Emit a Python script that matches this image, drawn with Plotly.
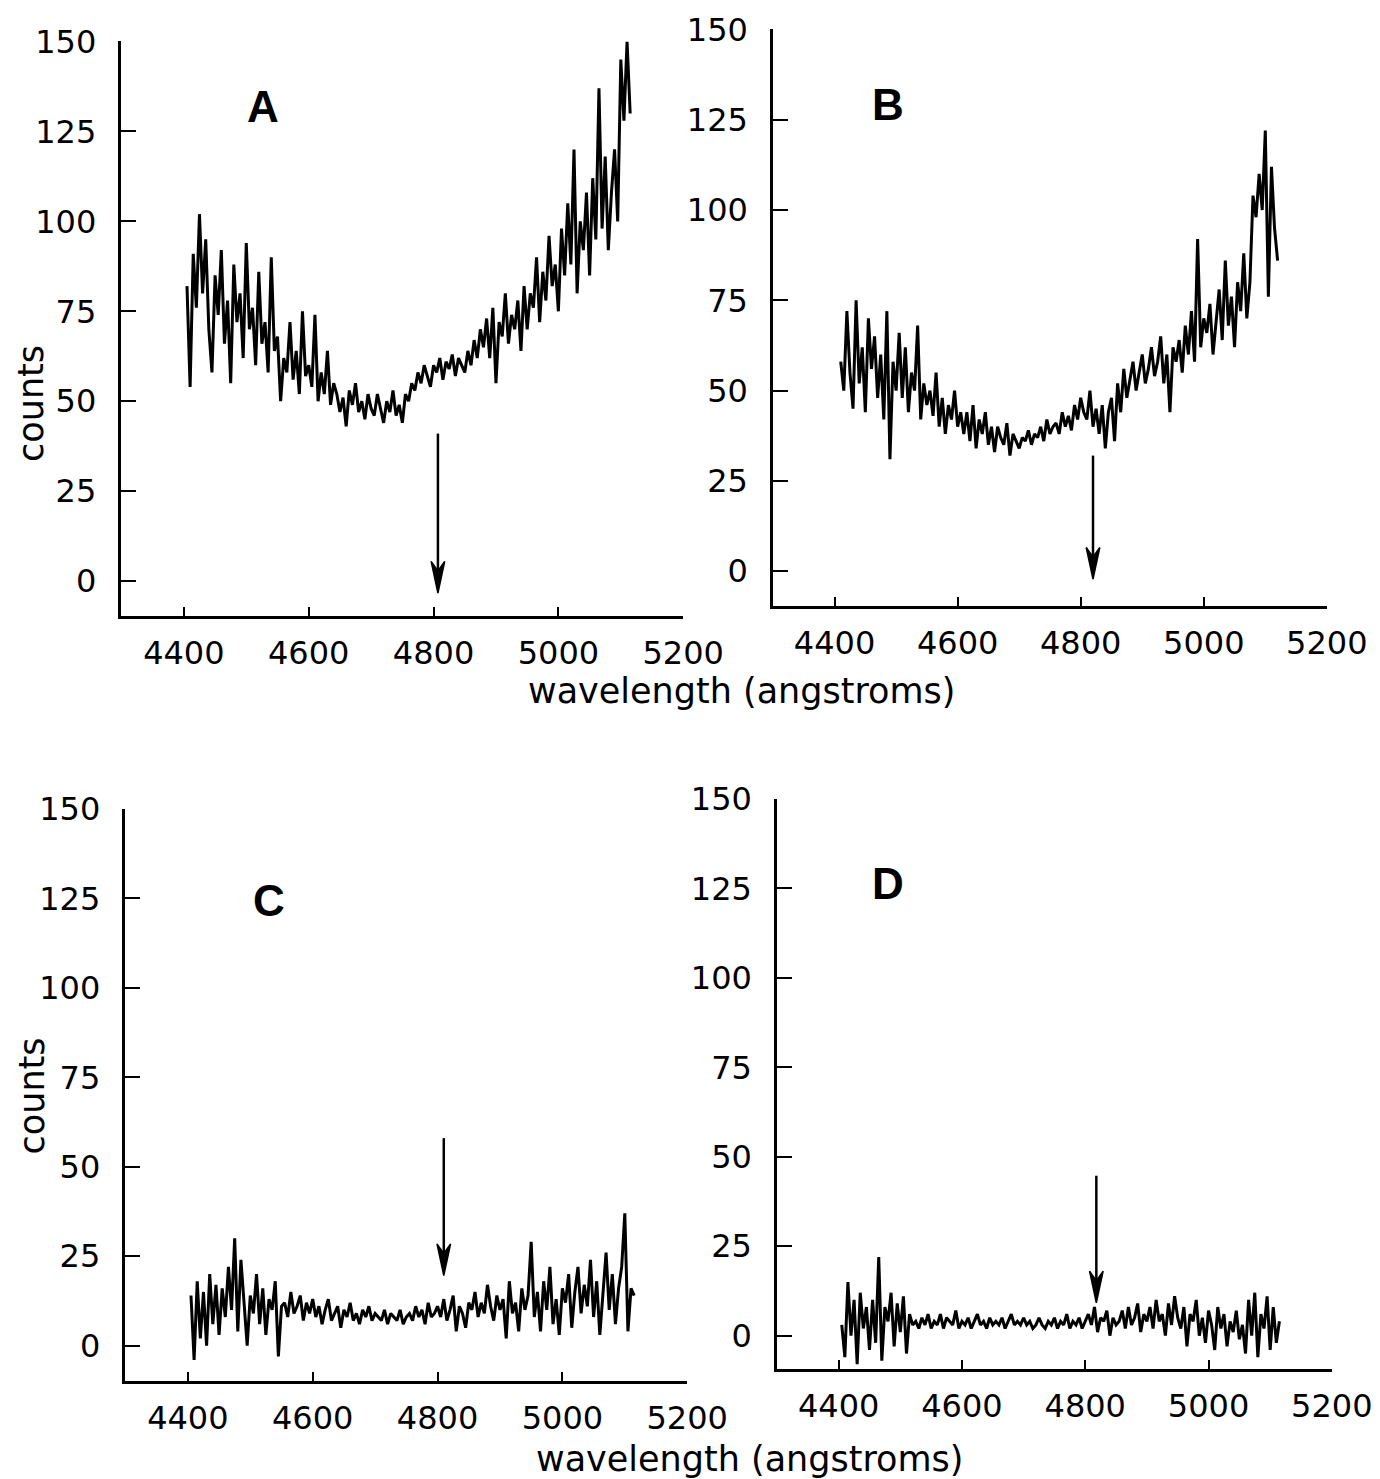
import plotly.graph_objects as go

# ---------------- data ----------------
wl_start_A, wl_start_B, wl_start_C, wl_start_D = 4405, 4410, 4405, 4405
wl_step = 5

counts_A = [
    82, 54, 91, 76, 102, 80, 95, 70, 58, 85,
    74, 92, 66, 78, 55, 88, 72, 80, 62, 94,
    70, 76, 60, 86, 66, 72, 58, 90, 64, 68,
    50, 62, 58, 72, 56, 64, 52, 75, 57, 60,
    54, 74, 50, 58, 52, 64, 49, 55, 52, 47,
    51, 43, 53, 49, 55, 47, 50, 45, 52, 48,
    46, 52, 48, 44, 50, 47, 53, 46, 49, 44,
    52, 50, 55, 53, 58, 55, 60, 57, 54, 60,
    58, 62, 56, 61, 59, 63, 57, 62, 60, 58,
    64, 60, 67, 62, 70, 65, 73, 62, 76, 55,
    72, 68, 80, 66, 74, 70, 78, 64, 82, 70,
    80, 76, 90, 72, 86, 78, 96, 82, 88, 75,
    98, 85, 105, 88, 120, 80, 100, 92, 108, 85,
    112, 95, 137, 98, 118, 92, 108, 120, 100, 145,
    128, 150, 130,
]

counts_B = [
    58, 50, 72, 55, 45, 75, 52, 62, 44, 70,
    56, 65, 48, 60, 42, 72, 31, 58, 50, 66,
    48, 62, 44, 55, 50, 68, 42, 52, 46, 50,
    43, 55, 40, 48, 38, 46, 42, 50, 40, 44,
    38, 44, 36, 46, 34, 42, 38, 44, 35, 40,
    33, 40, 37, 35, 41, 32, 38, 36, 34, 37,
    36, 39, 35, 38, 37, 40, 36, 42, 38, 40,
    41, 38, 44, 40, 43, 39, 46, 42, 48, 44,
    42, 50, 40, 45, 38, 46, 34, 44, 48, 36,
    52, 44, 56, 48, 53, 58, 50, 55, 60, 52,
    56, 62, 54, 58, 65, 52, 60, 44, 62, 58,
    64, 55, 68, 60, 72, 58, 92, 62, 70, 66,
    74, 60, 70, 78, 64, 86, 68, 76, 62, 80,
    72, 88, 70, 80, 104, 98, 110, 100, 122, 76,
    112, 95, 86,
]

counts_C = [
    14, -4, 18, 2, 15, 0, 20, 6, 17, 3,
    16, 8, 22, 10, 30, 4, 24, 12, 0, 14,
    9, 20, 6, 16, 3, 13, 10, 18, -3, 11,
    12, 8, 15, 9, 11, 14, 7, 12, 9, 13,
    8, 11, 6, 10, 13, 7, 9, 11, 5, 10,
    8, 12, 7, 9, 6, 10, 8, 11, 7, 9,
    8, 7, 10, 6, 9, 8, 7, 10, 6, 8,
    9, 7, 11, 8, 10, 6, 12, 8, 9, 11,
    8, 13, 7, 10, 14, 4, 11, 9, 5, 12,
    10, 15, 8, 12, 9, 17, 11, 7, 14, 10,
    13, 2, 18, 9, 12, 4, 16, 10, 14, 29,
    8, 15, 4, 18, 10, 22, 6, 13, 3, 16,
    12, 20, 5, 15, 22, 9, 17, 11, 24, 8,
    18, 3, 15, 26, 10, 20, 6, 16, 22, 37,
    4, 16, 14,
]

counts_D = [
    3, -6, 15, 0, 10, -8, 12, 2, 8, -4,
    10, -2, 22, -7, 8, 4, 12, -3, 9, 1,
    11, -5, 6, 3, 4, 2, 5, 3, 6, 2,
    4, 3, 6, 2, 5, 4, 3, 7, 2, 4,
    3, 5, 2, 4, 6, 3, 4, 2, 5, 3,
    4, 3, 5, 2, 4, 6, 3, 4, 3, 5,
    3, 4, 2, 3, 5, 3, 2, 4, 3, 5,
    2, 4, 3, 6, 2, 4, 3, 5, 2, 4,
    6, 3, 8, 1, 5, 4, 7, 0, 5, 3,
    4, 7, 2, 8, 3, 5, 9, 1, 6, 4,
    8, 2, 10, 4, 6, 0, 9, 3, 11, 5,
    2, 8, -3, 6, 4, 10, 0, 5, -2, 7,
    3, -4, 8, 2, 6, -3, 4, 1, 7, -1,
    3, -5, 10, 0, 12, -6, 6, 2, 11, -4,
    8, -2, 4,
]

panel_labels = ["A", "B", "C", "D"]
x_ticks = [4400, 4600, 4800, 5000, 5200]
y_ticks = [0, 25, 50, 75, 100, 125, 150]
x_title = "wavelength (angstroms)"
y_title = "counts"

# arrow marking the line position (wavelength, top count, tip count)
arrow_A = (4807, 41, -3.3)
arrow_B = (4820, 32, -2.2)
arrow_C = (4810, 58, 19.6)
arrow_D = (4818, 44.7, 9.2)

# ---------------- layout helpers ----------------
W, H = 1380, 1479


def X(r):
    # reference pixel -> layout pixel (horizontal)
    return (r - 6.3) / 0.9724


def Y(r):
    # reference pixel -> layout pixel (vertical)
    return (r - 25.5) / 0.9878


def px_x(p):
    return p / W


def px_y(p):
    return 1 - p / H


panels = [
    # (counts, start, x0, x1, ytop, ybot, yzero, arrow, letter position)  -- reference pixels
    (counts_A, wl_start_A, 120, 683, 40, 615, 580, arrow_A, (262, 105)),
    (counts_B, wl_start_B, 773, 1328, 28, 605, 570, arrow_B, (888, 103)),
    (counts_C, wl_start_C, 124, 687, 808, 1380, 1345, arrow_C, (268, 900)),
    (counts_D, wl_start_D, 777, 1333, 798, 1368, 1335, arrow_D, (888, 883)),
]

fig = go.Figure()
FONT = "DejaVu Sans"
TICK_SIZE = 32
TITLE_SIZE = 35
shapes = []
annotations = []

for i, (cnt, start, rx0, rx1, ryt, ryb, ry0, arrow, lab) in enumerate(panels):
    x0, x1 = X(rx0), X(rx1)
    yt, yb, y0 = Y(ryt), Y(ryb), Y(ry0)
    n = i + 1
    xs = [start + wl_step * k for k in range(len(cnt))]
    xa = "x" if n == 1 else f"x{n}"
    ya = "y" if n == 1 else f"y{n}"
    fig.add_trace(go.Scatter(x=xs, y=cnt, mode="lines",
                             line=dict(color="black", width=3.0),
                             xaxis=xa, yaxis=ya, showlegend=False,
                             hoverinfo="skip"))
    scale = (y0 - yt) / 150.0
    ymin = -(yb - y0) / scale
    xkey = "xaxis" if n == 1 else f"xaxis{n}"
    ykey = "yaxis" if n == 1 else f"yaxis{n}"
    fig.layout[xkey] = dict(
        domain=[px_x(x0), px_x(x1)], range=[4300, 5200], anchor=ya,
        showline=True, linecolor="black", linewidth=2.5, mirror=False,
        ticks="inside", ticklen=9, tickwidth=1.5, tickcolor="black",
        tickvals=x_ticks, ticktext=[str(v) for v in x_ticks],
        ticklabelstandoff=7,
        tickfont=dict(family=FONT, size=TICK_SIZE, color="black"),
        showgrid=False, zeroline=False, fixedrange=True,
    )
    fig.layout[ykey] = dict(
        domain=[px_y(yb), px_y(yt)], range=[ymin, 150], anchor=xa,
        showline=True, linecolor="black", linewidth=2.5, mirror=False,
        ticks="inside", ticklen=15, tickwidth=2, tickcolor="black",
        tickvals=y_ticks, ticktext=[str(v) for v in y_ticks],
        ticklabelstandoff=16,
        tickfont=dict(family=FONT, size=TICK_SIZE, color="black"),
        showgrid=False, zeroline=False, fixedrange=True,
    )
    # arrow: shaft + filled head
    ax, atop, atip = arrow
    head_h = 32 / scale
    head_w = 7 / (x1 - x0) * 900
    shapes.append(dict(type="line", xref=xa, yref=ya, x0=ax, x1=ax,
                       y0=atop, y1=atip + head_h * 0.6,
                       line=dict(color="black", width=2.5)))
    shapes.append(dict(type="path", xref=xa, yref=ya,
                       path=f"M {ax - head_w} {atip + head_h} L {ax} {atip + head_h * 0.7} "
                            f"L {ax + head_w} {atip + head_h} L {ax} {atip} Z",
                       fillcolor="black", line=dict(color="black", width=1.5)))
    annotations.append(dict(x=px_x(X(lab[0])), y=px_y(Y(lab[1])),
                            xref="paper", yref="paper",
                            xanchor="center", yanchor="middle",
                            text=f"<b>{panel_labels[i]}</b>", showarrow=False,
                            font=dict(family="Liberation Sans", size=44, color="black")))

# axis titles
for (tx, ty) in [(742, 690), (750, 1458)]:
    annotations.append(dict(x=px_x(X(tx)), y=px_y(Y(ty)), xref="paper", yref="paper",
                            xanchor="center", yanchor="middle",
                            text=x_title, showarrow=False,
                            font=dict(family=FONT, size=TITLE_SIZE, color="black")))
for (tx, ty) in [(30, 402), (30, 1095)]:
    annotations.append(dict(x=px_x(X(tx)), y=px_y(Y(ty)), xref="paper", yref="paper",
                            xanchor="center", yanchor="middle",
                            text=y_title, showarrow=False, textangle=-90,
                            font=dict(family=FONT, size=TITLE_SIZE, color="black")))

fig.update_layout(width=W, height=H, margin=dict(l=0, r=0, t=0, b=0),
                  paper_bgcolor="white", plot_bgcolor="white",
                  shapes=shapes, annotations=annotations)

fig.write_html("out.html")
